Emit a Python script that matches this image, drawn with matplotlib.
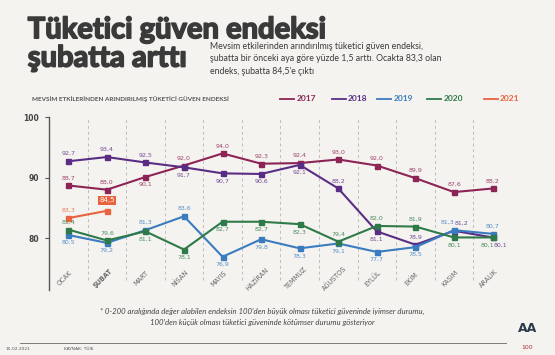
import matplotlib
matplotlib.use("Agg")
import matplotlib.pyplot as plt
from matplotlib.lines import Line2D
import matplotlib.patheffects as pe

months = ["OCAK", "ŞUBAT", "MART", "NİSAN", "MAYIS", "HAZİRAN", "TEMMUZ",
          "AĞUSTOS", "EYLÜL", "EKİM", "KASIM", "ARALIK"]
years = ["2017", "2018", "2019", "2020", "2021"]
v2017 = [88.7, 88.0, 90.1, 92.0, 94.0, 92.3, 92.4, 93.0, 92.0, 89.9, 87.6, 88.2]
v2018 = [92.7, 93.4, 92.5, 91.7, 90.7, 90.6, 92.1, 88.2, 81.1, 78.9, 81.2, 80.1]
v2019 = [80.5, 79.2, 81.3, 83.6, 76.9, 79.8, 78.3, 79.1, 77.7, 78.5, 81.3, 80.7]
v2020 = [81.4, 79.6, 81.1, 78.1, 82.7, 82.7, 82.3, 79.4, 82.0, 81.9, 80.1, 80.1]
v2021 = [83.3, 84.5]
yticks = [80, 90, 100]

colors = ["#8C2456", "#5A2D85", "#3A7CBF", "#2E7A48", "#E8643E"]
series = [v2017, v2018, v2019, v2020, v2021]

# label placement: +1 above, -1 below; optional horizontal shift (pixels)
pos2017 = [1, 1, -1, 1, 1, 1, 1, 1, 1, 1, 1, 1]
pos2018 = [1, 1, 1, -1, -1, -1, -1, 1, -1, 1, 1, -1]
pos2019 = [-1, -1, 1, 1, -1, -1, -1, -1, -1, -1, 1, 1]
pos2020 = [1, 1, -1, -1, -1, -1, -1, 1, 1, 1, -1, -1]
pos2021 = [1, 1]
positions = [pos2017, pos2018, pos2019, pos2020, pos2021]
dx = {(1, 10): 7, (1, 11): 8, (2, 10): -7, (3, 11): -5}

bg = "#F5F3F0"
fig = plt.figure(figsize=(5.55, 3.55), dpi=100, facecolor=bg)
ax = fig.add_axes([0.0883, 0.183, 0.834, 0.487])
ax.set_facecolor(bg)

x = list(range(12))
for i, (vals, col) in enumerate(zip(series, colors)):
    xs = x[:len(vals)]
    ax.plot(xs, vals, color=col, lw=1.5, marker="s", ms=3.6, zorder=3 + i)
    for j, v in enumerate(vals):
        p = positions[i][j]
        off = dx.get((i, j), 0)
        txt = f"{v:.1f}".replace(".", ",")
        if i == 4 and j == 1:
            ax.annotate(txt, (j, v), xytext=(0, 7.5), textcoords="offset points",
                        ha="center", va="center", fontsize=5, color="white",
                        bbox=dict(boxstyle="square,pad=0.2", fc=col, ec="none"),
                        zorder=10)
            continue
        ax.annotate(txt, (j, v), xytext=(off * 0.72, 5.5 * p), textcoords="offset points",
                    ha="center", va="center", fontsize=4.5, color=col, alpha=0.85,
                    zorder=10)

ax.set_xlim(-0.5, 11.5)
ax.set_ylim(71.4, 100)
for k in range(12):
    ax.axvline(k + 0.5, ymin=0.06, ymax=1, color="#BDBDBD", lw=0.7, ls=(0, (3, 3)), zorder=1)

for s in ["top", "right", "bottom"]:
    ax.spines[s].set_visible(False)
ax.spines["left"].set_color("#555555")
ax.spines["left"].set_linewidth(1.0)
ax.set_xticks([])
ax.set_yticks(yticks)
ax.set_yticklabels([str(t) for t in yticks], fontsize=5.5, fontweight="bold", color="#444444")
ax.tick_params(axis="y", length=3, width=0.8, color="#555555", pad=4)

for k, m in enumerate(months):
    ax.text(k - 0.1, 73.3, m, rotation=45, ha="center", va="center", fontsize=4.7,
            color="#666666", fontweight="bold" if k == 1 else "normal")

# titles
heavy = [pe.Stroke(linewidth=1.2, foreground="#3A3A3A"), pe.Normal()]
fig.text(0.05, 0.915, "Tüketici güven endeksi", fontsize=21, fontweight="bold",
         color="#3A3A3A", family="Lato", va="center", path_effects=heavy)
fig.text(0.05, 0.835, "şubatta arttı", fontsize=21, fontweight="bold",
         color="#3A3A3A", family="Lato", va="center", path_effects=heavy)
sub = ["Mevsim etkilerinden arındırılmış tüketici güven endeksi,",
       "şubatta bir önceki aya göre yüzde 1,5 arttı. Ocakta 83,3 olan",
       "endeks, şubatta 84,5'e çıktı"]
for k, line in enumerate(sub):
    fig.text(0.378, 0.868 - k * 0.034, line, fontsize=6.3, color="#3A3A3A",
             family="Lato", va="center")

fig.text(0.058, 0.722, "MEVSİM ETKİLERİNDEN ARINDIRILMIŞ TÜKETİCİ GÜVEN ENDEKSİ",
         fontsize=4.6, fontweight="bold", color="#555555", family="Lato", va="center")

# legend
leg_x = [0.505, 0.598, 0.68, 0.77, 0.872]
for lx, yr, col in zip(leg_x, years, colors):
    fig.add_artist(Line2D([lx, lx + 0.025], [0.722, 0.722], color=col, lw=1.3))
    fig.text(lx + 0.029, 0.722, yr, fontsize=6, fontweight="bold", color=col,
             family="Lato", va="center")

# footnote
fig.text(0.472, 0.123, "* 0-200 aralığında değer alabilen endeksin 100'den büyük olması tüketici güveninde iyimser durumu,",
         fontsize=5.6, style="italic", color="#444444", family="Lato", ha="center", va="center")
fig.text(0.472, 0.091, "100'den küçük olması tüketici güveninde kötümser durumu gösteriyor",
         fontsize=5.6, style="italic", color="#444444", family="Lato", ha="center", va="center")

fig.add_artist(Line2D([0.036, 0.912], [0.034, 0.034], color="#666666", lw=0.6))
fig.text(0.01, 0.017, "15.02.2021", fontsize=3.2, color="#555555", va="center")
fig.text(0.115, 0.017, "KAYNAK: TÜİK", fontsize=3.2, color="#555555", va="center")
fig.text(0.95, 0.075, "AA", fontsize=9, fontweight="bold", color="#2B3A4A", ha="center", va="center")
fig.text(0.95, 0.02, "100", fontsize=4.5, color="#B03030", ha="center", va="center")

fig.savefig("out.png", dpi=100, facecolor=bg)
